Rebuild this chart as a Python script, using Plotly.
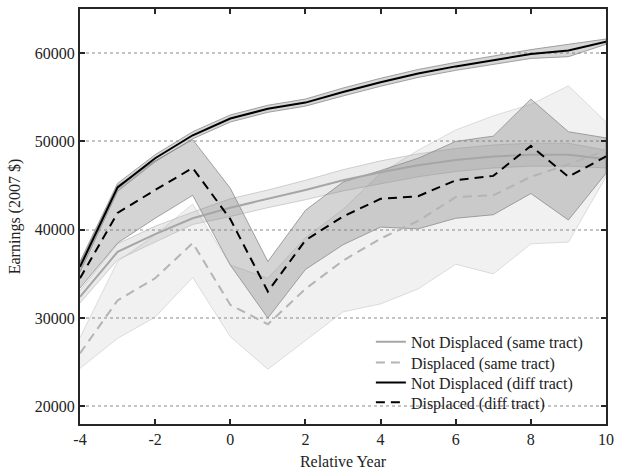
import plotly.graph_objects as go

years = list(range(-4, 11))

nd_same = [32400, 37500, 39500, 41300, 42500, 43500, 44500, 45600, 46500, 47300, 47900, 48300, 48500, 48500, 48000]
nd_same_hw = [700, 900, 900, 700, 1000, 1000, 1100, 1200, 1300, 1300, 1300, 1300, 1300, 1300, 1000]

d_same = [26000, 32000, 34500, 38500, 31500, 29300, 33300, 36500, 39000, 41000, 43700, 43900, 46000, 47400, 49000]
d_same_lo = [24300, 27700, 30100, 34600, 27900, 24200, 27500, 30700, 31600, 33300, 36100, 35000, 38400, 38600, 46000]
d_same_hi = [27800, 36400, 39400, 42900, 36000, 34500, 39100, 42300, 46400, 49000, 51300, 52900, 54200, 56300, 52200]

nd_diff = [35800, 44800, 48100, 50700, 52600, 53700, 54400, 55600, 56700, 57700, 58500, 59200, 59900, 60300, 61300]
nd_diff_hw = [600, 450, 400, 400, 400, 400, 400, 450, 450, 450, 450, 450, 500, 700, 300]

d_diff = [34500, 41900, 44500, 47000, 41200, 33000, 38800, 41500, 43500, 43800, 45600, 46100, 49500, 46000, 48300]
d_diff_lo = [33400, 38500, 41300, 43900, 36000, 30000, 35500, 38300, 40300, 40100, 41300, 41700, 44100, 41100, 46400]
d_diff_hi = [36200, 45000, 47800, 50200, 44700, 36400, 42200, 45400, 46700, 48100, 50000, 50600, 54800, 51100, 50400]

labels = ["Not Displaced (same tract)", "Displaced (same tract)",
          "Not Displaced (diff tract)", "Displaced (diff tract)"]
xtick_vals = [-4, -2, 0, 2, 4, 6, 8, 10]
xtick_text = ["-4", "-2", "0", "2", "4", "6", "8", "10"]
ytick_vals = [20000, 30000, 40000, 50000, 60000]
ytick_text = ["20000", "30000", "40000", "50000", "60000"]

FONT = "Liberation Serif"

fig = go.Figure()


def band(lo, hi, fill, edge):
    fig.add_trace(go.Scatter(
        x=years + years[::-1], y=list(hi) + list(lo)[::-1],
        fill="toself", fillcolor=fill, mode="lines",
        line=dict(color=edge, width=1), hoverinfo="skip", showlegend=False))


band(d_same_lo, d_same_hi, "rgba(150,150,150,0.13)", "rgba(200,200,200,0.6)")
band([v - h for v, h in zip(nd_same, nd_same_hw)], [v + h for v, h in zip(nd_same, nd_same_hw)],
     "rgba(150,150,150,0.2)", "rgba(190,190,190,0.7)")
band(d_diff_lo, d_diff_hi, "rgba(120,120,120,0.32)", "rgba(140,140,140,0.8)")
band([v - h for v, h in zip(nd_diff, nd_diff_hw)], [v + h for v, h in zip(nd_diff, nd_diff_hw)],
     "rgba(120,120,120,0.3)", "rgba(140,140,140,0.8)")

fig.add_trace(go.Scatter(x=years, y=nd_same, mode="lines", name=labels[0], legend="legend",
                         line=dict(color="#a6a6a6", width=2)))
fig.add_trace(go.Scatter(x=years, y=d_same, mode="lines", name=labels[1], legend="legend2",
                         line=dict(color="#b4b4b4", width=2, dash="9px,6px")))
fig.add_trace(go.Scatter(x=years, y=nd_diff, mode="lines", name=labels[2], legend="legend3",
                         line=dict(color="#000000", width=2)))
fig.add_trace(go.Scatter(x=years, y=d_diff, mode="lines", name=labels[3], legend="legend4",
                         line=dict(color="#000000", width=2, dash="9px,6px")))

axis_common = dict(showline=True, linecolor="#262626", linewidth=2, mirror="ticks",
                   ticks="inside", ticklen=5, tickwidth=2, tickcolor="#262626",
                   zeroline=False, tickfont=dict(family=FONT, size=16, color="#222"))

fig.update_xaxes(range=[-4, 10], tickvals=xtick_vals, ticktext=xtick_text, showgrid=False,
                 title=dict(text="Relative Year", font=dict(family=FONT, size=16, color="#222"), standoff=9),
                 **axis_common)
fig.update_yaxes(range=[18000, 65000], tickvals=ytick_vals, ticktext=ytick_text, showgrid=True,
                 gridcolor="#c4c4c4", gridwidth=1.6, griddash="dot",
                 title=dict(text="Earnings (2007 $)", font=dict(family=FONT, size=16, color="#222"), standoff=10),
                 **axis_common)


def leg(ypos):
    return dict(x=0.553, y=ypos, xanchor="left", yanchor="middle",
                bgcolor="rgba(0,0,0,0)", borderwidth=0,
                font=dict(family=FONT, size=16, color="#222"), itemwidth=30)


fig.update_layout(
    width=621, height=475,
    margin=dict(l=80, r=8, t=7, b=45),
    paper_bgcolor="white", plot_bgcolor="white",
    font=dict(family=FONT, size=16, color="#222"),
    legend=leg(0.198), legend2=leg(0.148), legend3=leg(0.1), legend4=leg(0.052),
    showlegend=True,
)

fig.write_html("out.html")
